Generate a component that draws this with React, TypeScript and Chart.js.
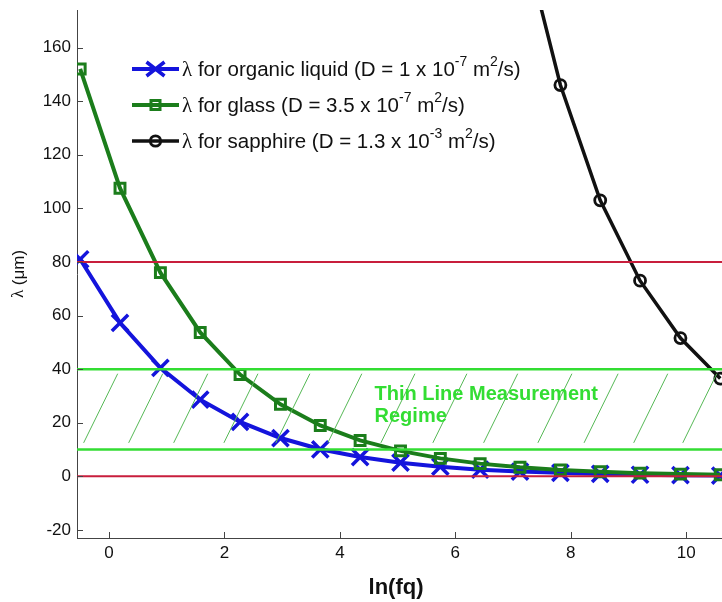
import React, { useEffect, useRef } from 'react';
import { Chart, registerables } from 'chart.js';

Chart.register(...registerables);

// ln(fq) positions of the samples
const lnFq = [-0.5, 0.19, 0.89, 1.58, 2.27, 2.97, 3.66, 4.35, 5.05, 5.74, 6.43, 7.12, 7.82, 8.51, 9.2, 9.9, 10.59];
// lambda (um) for each material
const organic = [81, 57.3, 40.5, 28.6, 20.3, 14.3, 10.1, 7.2, 5.1, 3.6, 2.5, 1.8, 1.3, 0.9, 0.6, 0.45, 0.3];
const glass = [152, 107.5, 76, 53.7, 38, 26.9, 19, 13.4, 9.5, 6.7, 4.75, 3.4, 2.4, 1.7, 1.2, 0.85, 0.6];
const sapphire = [null, null, null, null, null, null, null, null, null, null, null, 206, 146, 103, 73, 51.6, 36.5];

const xTicks = [0, 2, 4, 6, 8, 10];
const yTicks = [-20, 0, 20, 40, 60, 80, 100, 120, 140, 160];

const redLevels = [80, 0];
const greenLevels = [40, 10];
const hatchTopX = [0.15, 0.93, 1.71, 2.58, 3.48, 4.38, 5.3, 6.2, 7.08, 8.02, 8.82, 9.68, 10.53];
const hatchRun = 0.59;
const hatchLow = 12.5;
const hatchHigh = 38.3;

const regimeLines = ['Thin Line Measurement', 'Regime'];
const regimeX = 4.6;
const regimeY = [30.4, 22.3];

const legendNames = ['organic liquid', 'glass', 'sapphire'];
const legendD = ['1', '3.5', '1.3'];
const legendExp = ['-7', '-7', '-3'];

const xTitle = 'ln(fq)';
const yTitleSym = 'λ';
const yTitleRest = ' (μm)';

const SANS = '"Liberation Sans", Arial, sans-serif';
const SERIF = '"Liberation Serif", "Times New Roman", serif';

const BLUE = '#1414dc';
const GREEN = '#1b7d1b';
const BLACK = '#111111';
const RED = '#c81e3c';
const LIME = '#33dd33';
const AXIS = '#444444';

function drawMarker(ctx: CanvasRenderingContext2D, kind: string, x: number, y: number, color: string) {
  ctx.save();
  ctx.strokeStyle = color;
  if (kind === 'x') {
    ctx.lineWidth = 3.5;
    ctx.beginPath();
    ctx.moveTo(x - 9, y - 7); ctx.lineTo(x + 9, y + 7);
    ctx.moveTo(x - 9, y + 7); ctx.lineTo(x + 9, y - 7);
    ctx.stroke();
  } else if (kind === 's') {
    ctx.lineWidth = 3;
    ctx.strokeRect(x - 4.5, y - 4.5, 9, 9);
  } else {
    ctx.lineWidth = 2.8;
    ctx.beginPath(); ctx.arc(x, y, 5.2, 0, Math.PI * 2); ctx.stroke();
  }
  ctx.restore();
}

const overlay = {
  id: 'overlay',
  afterDatasetsDraw(chart: any) {
    const { ctx, chartArea: a, scales } = chart;
    const x = scales.x, y = scales.y;
    ctx.save();
    ctx.beginPath();
    ctx.rect(a.left, a.top, a.right - a.left, a.bottom - a.top);
    ctx.clip();
    // hatch
    ctx.strokeStyle = '#55b855';
    ctx.lineWidth = 1;
    hatchTopX.forEach((t) => {
      ctx.beginPath();
      ctx.moveTo(x.getPixelForValue(t - hatchRun), y.getPixelForValue(hatchLow));
      ctx.lineTo(x.getPixelForValue(t), y.getPixelForValue(hatchHigh));
      ctx.stroke();
    });
    // regime text
    ctx.fillStyle = LIME;
    ctx.font = `bold 20px ${SANS}`;
    ctx.textBaseline = 'middle';
    ctx.textAlign = 'left';
    regimeLines.forEach((s, i) => ctx.fillText(s, x.getPixelForValue(regimeX), y.getPixelForValue(regimeY[i])));
    // level lines
    ctx.lineWidth = 2.5;
    ctx.strokeStyle = LIME;
    greenLevels.forEach((v) => {
      const py = y.getPixelForValue(v);
      ctx.beginPath(); ctx.moveTo(a.left, py); ctx.lineTo(a.right, py); ctx.stroke();
    });
    ctx.lineWidth = 2;
    ctx.strokeStyle = RED;
    redLevels.forEach((v) => {
      const py = y.getPixelForValue(v);
      ctx.beginPath(); ctx.moveTo(a.left, py); ctx.lineTo(a.right, py); ctx.stroke();
    });
    ctx.restore();
  },
  afterDraw(chart: any) {
    const { ctx, chartArea: a, scales } = chart;
    const x = scales.x, y = scales.y;
    ctx.save();
    // inward tick marks
    ctx.strokeStyle = AXIS;
    ctx.lineWidth = 1;
    xTicks.forEach((v) => {
      const px = Math.round(x.getPixelForValue(v)) + 0.5;
      ctx.beginPath(); ctx.moveTo(px, a.bottom); ctx.lineTo(px, a.bottom - 6); ctx.stroke();
    });
    yTicks.forEach((v) => {
      const py = Math.round(y.getPixelForValue(v)) + 0.5;
      ctx.beginPath(); ctx.moveTo(a.left, py); ctx.lineTo(a.left + 6, py); ctx.stroke();
    });
    // x title
    ctx.fillStyle = '#111';
    ctx.font = `bold 22px ${SANS}`;
    ctx.textAlign = 'center';
    ctx.textBaseline = 'middle';
    ctx.fillText(xTitle, 396, 588);
    // y title
    ctx.save();
    ctx.translate(19, 274);
    ctx.rotate(-Math.PI / 2);
    ctx.font = `17px ${SERIF}`;
    const w1 = ctx.measureText(yTitleSym).width;
    ctx.font = `17px ${SANS}`;
    const w2 = ctx.measureText(yTitleRest).width;
    ctx.textAlign = 'left';
    ctx.font = `17px ${SERIF}`;
    ctx.fillText(yTitleSym, -(w1 + w2) / 2, 0);
    ctx.font = `17px ${SANS}`;
    ctx.fillText(yTitleRest, -(w1 + w2) / 2 + w1, 0);
    ctx.restore();
    // legend
    const rows = [69, 105, 141];
    const colors = [BLUE, GREEN, BLACK];
    const kinds = ['x', 's', 'o'];
    const widths = [4, 4, 3.5];
    rows.forEach((ry, i) => {
      ctx.strokeStyle = colors[i];
      ctx.lineWidth = widths[i];
      ctx.beginPath(); ctx.moveTo(132, ry); ctx.lineTo(179, ry); ctx.stroke();
      drawMarker(ctx, kinds[i], 155.5, ry, colors[i]);
      let cx = 182;
      ctx.fillStyle = '#111';
      ctx.textAlign = 'left';
      ctx.textBaseline = 'middle';
      const pieces: [string, string, number][] = [
        [yTitleSym, `21px ${SERIF}`, 0],
        [` for ${legendNames[i]} (D = ${legendD[i]} x 10`, `20.5px ${SANS}`, 0],
        [legendExp[i], `14px ${SANS}`, -8],
        [' m', `20.5px ${SANS}`, 0],
        ['2', `14px ${SANS}`, -8],
        ['/s)', `20.5px ${SANS}`, 0],
      ];
      pieces.forEach(([t, f, dy]) => {
        ctx.font = f;
        ctx.fillText(t, cx, ry + dy + 1);
        cx += ctx.measureText(t).width;
      });
    });
    ctx.restore();
  },
};

export default function App() {
  const ref = useRef<HTMLCanvasElement | null>(null);
  useEffect(() => {
    document.body.style.margin = '0';
    const canvas = ref.current;
    if (!canvas) return;
    const pts = (arr: (number | null)[]) =>
      lnFq.map((v, i) => ({ x: v, y: arr[i] })).filter((p) => p.y !== null);
    const chart = new Chart(canvas, {
      type: 'line',
      data: {
        datasets: [
          {
            label: 'organic', data: pts(organic) as any, borderColor: BLUE, borderWidth: 4,
            pointStyle: 'crossRot', pointRadius: 11.5, pointBorderWidth: 3.5, pointBorderColor: BLUE,
            pointBackgroundColor: BLUE, tension: 0, order: 3,
          },
          {
            label: 'glass', data: pts(glass) as any, borderColor: GREEN, borderWidth: 4,
            pointStyle: 'rect', pointRadius: 7, pointBorderWidth: 3, pointBorderColor: GREEN,
            pointBackgroundColor: 'rgba(0,0,0,0)', tension: 0, order: 2,
          },
          {
            label: 'sapphire', data: pts(sapphire) as any, borderColor: BLACK, borderWidth: 3.5,
            pointStyle: 'circle', pointRadius: 5.5, pointBorderWidth: 2.8, pointBorderColor: BLACK,
            pointBackgroundColor: 'rgba(255,255,255,0)', tension: 0, order: 1,
          },
        ],
      },
      options: {
        animation: false,
        responsive: false,
        devicePixelRatio: 1,
        layout: { autoPadding: false, padding: { top: 10, left: 0, right: 0, bottom: 0 } },
        plugins: { legend: { display: false }, tooltip: { enabled: false } },
        scales: {
          x: {
            type: 'linear', min: -0.555, max: 10.62,
            afterBuildTicks: (s: any) => { s.ticks = xTicks.map((v) => ({ value: v })); },
            afterFit: (s: any) => { s.height = 64; s.paddingLeft = 0; s.paddingRight = 0; },
            grid: { display: false, drawTicks: false },
            border: { display: true, color: AXIS, width: 1 },
            ticks: { font: { family: SANS, size: 17 }, color: '#111', padding: 5, maxRotation: 0, autoSkip: false },
          },
          y: {
            type: 'linear', min: -23, max: 174,
            afterBuildTicks: (s: any) => { s.ticks = yTicks.map((v) => ({ value: v })); },
            afterFit: (s: any) => { s.width = 77; s.paddingTop = 0; s.paddingBottom = 0; },
            grid: { display: false, drawTicks: false },
            border: { display: true, color: AXIS, width: 1 },
            ticks: { font: { family: SANS, size: 17 }, color: '#111', padding: 6, autoSkip: false },
          },
        },
      },
      plugins: [overlay],
    });
    return () => chart.destroy();
  }, []);
  return (
    <div style={{ width: 722, height: 602, background: '#fff' }}>
      <canvas ref={ref} width={722} height={602} style={{ display: 'block' }} />
    </div>
  );
}
